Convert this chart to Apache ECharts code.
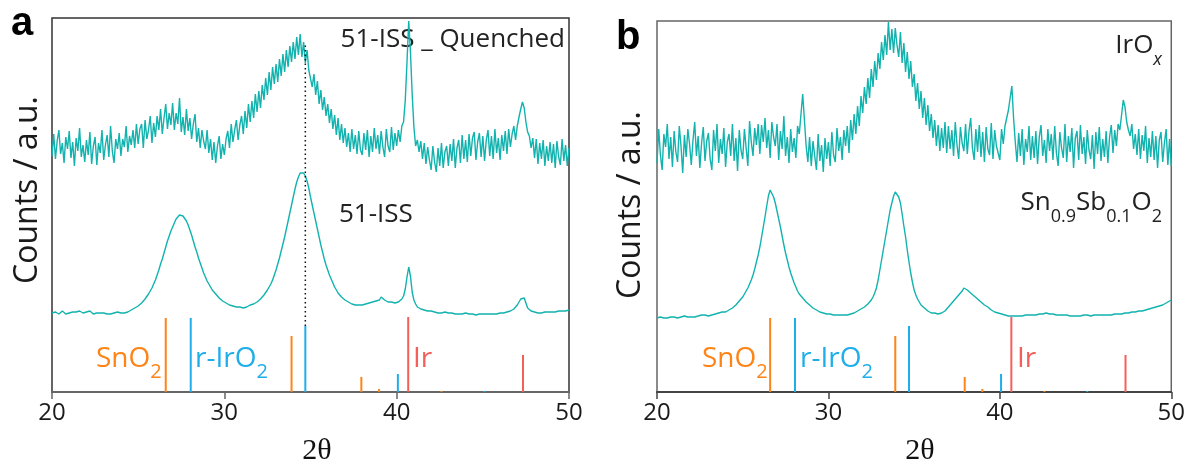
<!DOCTYPE html>
<html><head><meta charset="utf-8">
<script src="https://cdn.jsdelivr.net/npm/echarts@6/dist/echarts.min.js"></script>
<style>html,body{margin:0;padding:0;background:#fff}#c{width:1188px;height:468px}</style>
</head><body><div id="c"></div><script>
// 2θ sampling grid of the patterns
const twoThetaStart = 20, twoThetaStep = 0.1;
const xTicks = [20, 30, 40, 50];

// Panel a – 51-ISS quenched (offset, a.u.)
const quenched51ISS = [
236,258,233,251,262,238,249,229,255,243,
261,234,250,226,254,241,264,235,247,230,
252,237,260,228,246,255,227,249,239,262,
232,247,257,235,266,241,229,253,243,259,
236,253,245,266,240,256,247,262,244,268,
248,263,268,244,272,253,262,276,249,269,
255,276,262,283,258,274,288,263,279,267,
289,262,279,268,294,260,275,257,283,261,
274,253,268,278,250,264,244,262,251,243,
262,239,253,232,250,229,246,256,233,248,
237,253,261,244,268,250,262,272,252,267,
276,258,281,264,288,270,291,274,298,280,
301,284,307,292,314,297,320,302,325,308,
328,310,333,316,338,320,342,325,346,330,
350,333,355,337,358,335,350,329,342,322,
324,305,318,297,311,288,302,282,295,276,
288,269,283,263,277,257,274,252,268,249,
264,245,259,240,263,243,257,238,261,242,
237,259,242,262,235,256,240,264,243,257,
238,261,245,235,263,246,240,265,242,259,
246,262,250,266,270,292,330,371,340,298,
265,246,252,240,251,233,249,228,245,232,
222,246,230,220,244,226,249,224,240,246,
226,248,231,253,224,244,252,229,257,233,
252,230,258,236,254,260,232,250,259,235,
256,231,252,262,236,256,233,263,239,254,
232,257,241,261,238,263,245,258,266,252,
266,275,283,290,284,270,260,256,244,254,
234,253,228,249,233,252,226,246,231,250,
229,248,224,251,235,227,253,231,247,226,
244];

// Panel a – 51-ISS
const iss51 = [
79,78,80,79,78,80,81,79,78,80,
79,81,80,78,80,79,81,80,79,80,
80,79,81,79,78,80,79,77,79,78,
79,77,78,79,78,77,79,78,80,78,
79,80,79,81,80,81,82,83,84,85,
86,87,89,91,93,95,98,101,104,108,
112,117,122,128,133,139,145,151,156,161,
165,169,173,175,177,178,176,174,171,167,
162,157,151,145,140,134,129,124,119,115,
111,108,105,102,100,98,96,94,93,91,
90,89,88,87,87,86,86,85,86,85,
85,84,85,85,86,87,87,88,89,90,
92,93,95,97,99,102,105,108,112,117,
122,128,134,141,148,155,163,171,179,187,
195,203,210,215,219,220,219,216,211,204,
195,187,179,171,163,155,147,140,133,127,
122,117,113,109,105,102,99,97,95,93,
92,91,90,89,88,88,87,88,87,86,
87,87,88,88,89,89,90,91,91,92,
92,95,93,92,91,90,91,90,89,89,
89,90,91,93,96,103,115,125,116,100,
92,88,85,84,83,82,82,81,81,81,
81,80,80,80,79,80,79,79,80,79,
79,78,79,79,78,79,78,79,78,79,
79,78,78,79,78,78,77,78,78,78,
78,77,78,78,78,77,78,79,78,78,
79,78,79,79,80,80,81,82,83,85,
87,90,93,95,94,89,84,82,81,80,
80,79,79,80,79,80,80,79,80,80,
80,81,80,80,81,80,81,81,81,82,
82];

// Panel b – IrOx (offset, a.u.)
const irOx = [
229,263,237,222,258,245,268,233,255,225,
261,240,230,266,246,219,257,235,263,248,
227,252,270,236,256,224,249,265,231,251,
259,233,222,262,241,268,229,253,238,264,
225,250,258,236,268,231,254,221,262,242,
233,263,244,226,271,250,236,264,247,268,
238,267,250,274,244,262,234,270,255,246,
268,232,261,243,276,236,255,229,263,240,
254,234,266,258,278,298,272,246,230,255,
226,251,236,222,258,231,247,220,254,233,
250,226,260,237,230,264,241,255,232,262,
246,266,239,272,252,278,258,286,266,296,
279,305,288,314,294,323,305,331,312,339,
323,350,332,357,337,370,342,363,339,364,
347,335,360,329,349,320,340,313,331,305,
318,291,309,283,301,274,294,267,287,261,
278,254,272,246,267,241,264,244,270,239,
266,243,262,236,270,247,233,265,249,241,
268,238,261,274,244,232,263,240,267,235,
260,230,265,243,237,269,233,262,246,239,
232,263,248,266,266,282,294,306,274,250,
230,259,236,263,227,253,240,266,232,256,
234,261,228,255,267,236,252,229,263,241,
258,232,266,239,226,260,244,234,268,230,
256,240,264,224,254,261,232,267,238,255,
228,262,242,233,257,223,260,238,265,231,
253,235,261,229,255,267,239,262,246,268,
262,277,292,285,270,262,256,268,243,258,
237,263,233,257,241,266,229,254,235,261,
232,256,224,252,260,230,249,263,227,253,
226];

// Panel b – Sn0.9Sb0.1O2
const snSbO2 = [
74,74,75,74,74,75,74,75,75,74,
75,75,74,75,75,75,76,75,75,75,
75,76,75,76,76,76,77,76,77,77,
76,77,77,78,78,78,79,79,80,80,
80,81,82,83,84,85,87,89,91,93,
95,98,101,104,108,112,117,123,130,137,
145,155,165,175,186,196,202,200,195,189,
181,173,165,156,147,139,132,125,119,114,
109,105,101,98,96,94,92,90,88,87,
85,84,83,82,81,80,80,79,79,78,
78,78,77,77,77,77,76,77,77,77,
77,77,78,78,79,79,80,81,82,83,
84,85,86,88,90,92,95,99,104,112,
122,132,142,152,162,172,182,189,196,200,
199,195,189,178,166,155,142,130,119,110,
102,97,93,90,87,85,84,82,81,80,
79,79,79,78,78,79,79,80,81,83,
85,87,89,91,93,95,97,99,101,104,
103,102,100,99,97,96,94,93,91,90,
88,87,86,85,84,82,81,80,80,79,
78,78,77,77,77,76,76,76,76,76,
76,76,76,76,77,77,77,77,77,77,
77,77,78,78,78,78,79,79,78,78,
78,78,78,77,77,77,77,77,77,77,
77,76,76,76,76,76,76,76,76,77,
77,77,77,76,77,77,77,77,77,77,
77,77,77,77,77,77,78,78,78,78,
78,78,78,79,79,79,79,80,80,80,
80,81,81,81,82,82,82,83,83,84,
84,85,85,86,86,87,88,89,90,91,
92];

// Reference patterns: [2θ, relative height]
const refSnO2 = [[26.6,74],[33.9,56],[37.95,15],[38.98,3],[42.6,1]];
const refIrO2 = [[28.05,74],[34.7,66],[40.07,18],[45.1,1]];
const refIr   = [[40.67,75],[47.33,37]];
// dotted guide at r-IrO2 (101)
const guideA = [[34.7,66],[34.7,347]];

const TEAL = '#12b3ae', ORANGE = '#ff8418', BLUE = '#1eaeea', RED = '#f45f59';
const toPairs = arr => arr.map((v, i) => [+(twoThetaStart + i * twoThetaStep).toFixed(2), v]);

function stickSeries(data, color, idx) {
  return {
    type: 'custom', xAxisIndex: idx, yAxisIndex: idx, data: data, silent: true,
    encode: {x: 0, y: 1},
    renderItem: function (params, api) {
      const p0 = api.coord([api.value(0), 0]);
      const p1 = api.coord([api.value(0), api.value(1)]);
      return {type: 'line', shape: {x1: p0[0], y1: p0[1], x2: p1[0], y2: p1[1]},
              style: {stroke: color, lineWidth: 2}};
    }
  };
}
function trace(data, idx, w) {
  return {type: 'line', xAxisIndex: idx, yAxisIndex: idx, data: toPairs(data), showSymbol: false,
          symbol: 'none', silent: true, lineStyle: {color: TEAL, width: w}, itemStyle: {color: TEAL}};
}
function xAx(idx, lineColor) {
  return {type: 'value', gridIndex: idx, min: 20, max: 50, interval: 10,
    axisLine: {show: true, onZero: false, lineStyle: {color: lineColor, width: 2}},
    axisTick: {show: true, length: 7, lineStyle: {color: lineColor, width: 1.5}},
    axisLabel: {fontSize: 24, color: '#1a1a1a', fontFamily: 'Open Sans', margin: 9,
                formatter: v => xTicks.includes(v) ? String(v) : ''},
    splitLine: {show: false}};
}
function yAx(idx, max) {
  return {type: 'value', gridIndex: idx, min: 0, max: max,
    axisLine: {show: false}, axisTick: {show: false}, axisLabel: {show: false}, splitLine: {show: false}};
}
const labelFont = 'Open Sans';
function txt(x, y, text, rich, align) {
  return {type: 'text', x: x, y: y, silent: true,
    style: {text: text, rich: rich, align: align || 'left', verticalAlign: 'middle',
            font: '26px "' + labelFont + '"'}};
}
function richSet(color, size, subSize) {
  return {m: {fontSize: size, fontFamily: labelFont, fill: color, lineHeight: 46, verticalAlign: 'middle'},
          s: {fontSize: subSize, fontFamily: labelFont, fill: color, lineHeight: 6, verticalAlign: 'bottom'},
          i: {fontSize: subSize, fontFamily: labelFont, fontStyle: 'italic', fill: color, lineHeight: 6, verticalAlign: 'bottom'}};
}

const chart = echarts.init(document.getElementById('c'), null, {renderer: 'canvas'});
chart.setOption({
  animation: false,
  backgroundColor: '#fff',
  grid: [
    {left: 52, top: 18, width: 517, height: 374, show: true, borderColor: '#333', borderWidth: 1.5, backgroundColor: 'transparent'},
    {left: 657, top: 21, width: 515, height: 371, show: true, borderColor: '#666', borderWidth: 1.5, backgroundColor: 'transparent'}
  ],
  xAxis: [xAx(0, '#666'), xAx(1, '#444')],
  yAxis: [yAx(0, 374), yAx(1, 371)],
  series: [
    trace(quenched51ISS, 0, 1.4), trace(iss51, 0, 1.4),
    {type: 'line', xAxisIndex: 0, yAxisIndex: 0, data: guideA, showSymbol: false, symbol: 'none', silent: true,
     lineStyle: {color: '#111', width: 1.5, type: [1.5, 3]}},
    stickSeries(refSnO2, ORANGE, 0), stickSeries(refIrO2, BLUE, 0), stickSeries(refIr, RED, 0),
    trace(irOx, 1, 1.4), trace(snSbO2, 1, 1.4),
    stickSeries(refSnO2, ORANGE, 1), stickSeries(refIrO2, BLUE, 1), stickSeries(refIr, RED, 1)
  ],
  graphic: [
    {type: 'text', x: 11, y: 24, style: {text: 'a', font: 'bold 40px "Liberation Sans"', fill: '#000', verticalAlign: 'middle'}},
    {type: 'text', x: 616, y: 38, style: {text: 'b', font: 'bold 40px "Liberation Sans"', fill: '#000', verticalAlign: 'middle'}},
    {type: 'text', x: 28, y: 190, rotation: Math.PI / 2, style: {text: 'Counts / a.u.', font: '32px "Open Sans"', fill: '#1a1a1a', align: 'center', verticalAlign: 'middle'}},
    {type: 'text', x: 631, y: 205, rotation: Math.PI / 2, style: {text: 'Counts / a.u.', font: '32px "Open Sans"', fill: '#1a1a1a', align: 'center', verticalAlign: 'middle'}},
    {type: 'text', x: 317, y: 451, style: {text: '2θ', font: '30px "Liberation Serif"', fill: '#111', align: 'center', verticalAlign: 'middle'}},
    {type: 'text', x: 920, y: 451, style: {text: '2θ', font: '30px "Liberation Serif"', fill: '#111', align: 'center', verticalAlign: 'middle'}},
    txt(565, 40, '{m|51-ISS _ Quenched}', richSet('#222', 26, 18), 'right'),
    txt(339, 215, '{m|51-ISS}', richSet('#222', 26, 18), 'left'),
    txt(1162, 46, '{m|IrO}{i|x}', richSet('#222', 26, 18), 'right'),
    txt(1162, 203, '{m|Sn}{s|0.9}{m|Sb}{s|0.1}{m|O}{s|2}', richSet('#222', 26, 18), 'right'),
    txt(96, 359, '{m|SnO}{s|2}', richSet(ORANGE, 28, 20), 'left'),
    txt(195, 359, '{m|r-IrO}{s|2}', richSet(BLUE, 28, 20), 'left'),
    txt(413, 359, '{m|Ir}', richSet(RED, 28, 20), 'left'),
    txt(702, 359, '{m|SnO}{s|2}', richSet(ORANGE, 28, 20), 'left'),
    txt(800, 359, '{m|r-IrO}{s|2}', richSet(BLUE, 28, 20), 'left'),
    txt(1017, 359, '{m|Ir}', richSet(RED, 28, 20), 'left')
  ]
});
</script></body></html>
